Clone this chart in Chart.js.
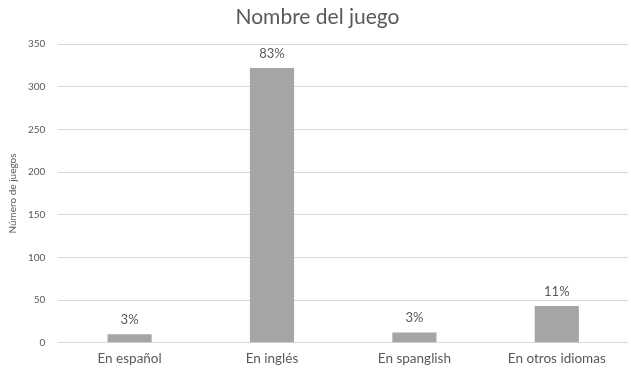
<!DOCTYPE html>
<html>
<head>
<meta charset="utf-8">
<script src="https://cdn.jsdelivr.net/npm/chart.js@4"></script>
<style>
  html, body { margin: 0; padding: 0; background: #fff; }
  #wrap { width: 631px; height: 375px; }
</style>
</head>
<body>
<div id="wrap"><canvas id="chartJuegos"></canvas></div>
<script>
const categorias = ['En español', 'En inglés', 'En spanglish', 'En otros idiomas'];
const numeroJuegos = [10, 322, 12, 43];
const porcentajes = ['3%', '83%', '3%', '11%'];
const ticksY = [0, 50, 100, 150, 200, 250, 300, 350];

const fuente = 'Lato, "Open Sans", sans-serif';

// etiquetas de porcentaje encima de cada barra
const etiquetasBarras = {
    id: 'etiquetasBarras',
    afterDatasetsDraw(chart) {
        const ctx = chart.ctx;
        const meta = chart.getDatasetMeta(0);
        ctx.save();
        ctx.fillStyle = '#595959';
        ctx.font = '13px ' + fuente;
        ctx.textAlign = 'center';
        ctx.textBaseline = 'bottom';
        meta.data.forEach((bar, i) => {
            ctx.fillText(porcentajes[i], bar.x, bar.y - 8);
        });
        ctx.restore();
    }
};

const dataJuegos = {
    labels: categorias,
    datasets: [{
        data: numeroJuegos,
        backgroundColor: '#a5a5a5',
        categoryPercentage: 1,
        barPercentage: 0.31
    }]
};

const optionsJuegos = {
    responsive: true,
    maintainAspectRatio: false,
    animation: false,
    layout: {
        padding: { left: 7, right: 3, top: 0, bottom: 8 }
    },
    scales: {
        x: {
            grid: { display: false },
            border: { display: false },
            ticks: {
                color: '#595959',
                font: { family: fuente, size: 13.5 },
                padding: 0
            }
        },
        y: {
            min: 0,
            max: 350,
            afterBuildTicks(axis) {
                axis.ticks = ticksY.map(v => ({ value: v }));
            },
            grid: {
                color: '#d9d9d9',
                lineWidth: 1,
                drawTicks: false
            },
            border: { display: false },
            ticks: {
                color: '#595959',
                font: { family: fuente, size: 10 },
                padding: 13
            },
            title: {
                display: true,
                text: 'Número de juegos',
                color: '#595959',
                font: { family: fuente, size: 10 },
                padding: { top: 0, bottom: -4 }
            }
        }
    },
    plugins: {
        legend: { display: false },
        tooltip: { enabled: false },
        title: {
            display: true,
            text: 'Nombre del juego',
            color: '#595959',
            font: { family: fuente, size: 21, weight: 'normal' },
            padding: { top: 5, bottom: 14 }
        }
    }
};

new Chart(document.getElementById('chartJuegos'), {
    type: 'bar',
    data: dataJuegos,
    options: optionsJuegos,
    plugins: [etiquetasBarras]
});
</script>
</body>
</html>
